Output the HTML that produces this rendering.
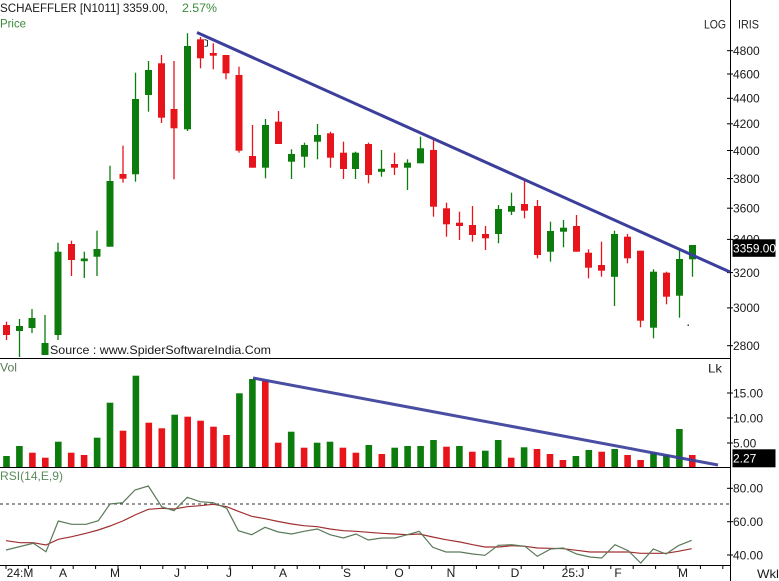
<!DOCTYPE html>
<html><head><meta charset="utf-8"><style>
html,body{margin:0;padding:0;background:#fff;}
svg{display:block;}
text{font-family:"Liberation Sans",sans-serif;}
</style></head><body>
<svg width="779" height="581" viewBox="0 0 779 581" xmlns="http://www.w3.org/2000/svg">
<rect width="779" height="581" fill="#fff"/>
<!-- header -->
<text x="0" y="12" font-size="12" fill="#1a1a1a" textLength="168" lengthAdjust="spacingAndGlyphs">SCHAEFFLER [N1011] 3359.00,</text>
<text x="182" y="12" font-size="12" fill="#3a8a3a" textLength="35" lengthAdjust="spacingAndGlyphs">2.57%</text>
<text x="0" y="27.5" font-size="12" fill="#3a8a3a" textLength="26" lengthAdjust="spacingAndGlyphs">Price</text>
<text x="704" y="28.3" font-size="12" fill="#222" textLength="22" lengthAdjust="spacingAndGlyphs">LOG</text>
<text x="738" y="28.3" font-size="12" fill="#222" textLength="21" lengthAdjust="spacingAndGlyphs">IRIS</text>

<!-- frame lines -->
<g stroke="#000" stroke-width="1">
<line x1="730.5" y1="0" x2="730.5" y2="581"/>
<line x1="0" y1="358.5" x2="730" y2="358.5"/>
<line x1="0" y1="467.5" x2="730" y2="467.5"/>
<line x1="0" y1="565.5" x2="730" y2="565.5"/>
</g>

<!-- right axis ticks -->
<g stroke="#000" stroke-width="1">
<line x1="727" y1="50.7" x2="733" y2="50.7"/>
<line x1="727" y1="74" x2="733" y2="74"/>
<line x1="727" y1="98.3" x2="733" y2="98.3"/>
<line x1="727" y1="123.8" x2="733" y2="123.8"/>
<line x1="727" y1="150.5" x2="733" y2="150.5"/>
<line x1="727" y1="178.6" x2="733" y2="178.6"/>
<line x1="727" y1="208.2" x2="733" y2="208.2"/>
<line x1="727" y1="239.4" x2="733" y2="239.4"/>
<line x1="727" y1="272.6" x2="733" y2="272.6"/>
<line x1="727" y1="307.9" x2="733" y2="307.9"/>
<line x1="727" y1="345.7" x2="733" y2="345.7"/>
<line x1="727" y1="393" x2="733" y2="393"/>
<line x1="727" y1="418" x2="733" y2="418"/>
<line x1="727" y1="443" x2="733" y2="443"/>
<line x1="727" y1="488.3" x2="733" y2="488.3"/>
<line x1="727" y1="521.7" x2="733" y2="521.7"/>
<line x1="727" y1="555" x2="733" y2="555"/>
</g>
<g font-size="12" fill="#1a1a1a">
<text x="733" y="55">4800</text>
<text x="733" y="78.3">4600</text>
<text x="733" y="102.6">4400</text>
<text x="733" y="128.1">4200</text>
<text x="733" y="154.8">4000</text>
<text x="733" y="182.9">3800</text>
<text x="733" y="212.5">3600</text>
<text x="733" y="243.7">3400</text>
<text x="733" y="276.9">3200</text>
<text x="733" y="312.2">3000</text>
<text x="733" y="350">2800</text>
<text x="733" y="397.3">15.00</text>
<text x="733" y="422.3">10.00</text>
<text x="733" y="447.3">5.00</text>
<text x="733" y="492.6">80.00</text>
<text x="733" y="526">60.00</text>
<text x="733" y="559.3">40.00</text>
</g>
<rect x="732.5" y="239.3" width="43" height="17.5" fill="#000"/>
<text x="733" y="252.5" font-size="12" fill="#fff" textLength="43" lengthAdjust="spacingAndGlyphs">3359.00</text>
<rect x="732.5" y="449.3" width="43" height="18" fill="#000"/>
<text x="733" y="462.7" font-size="12" fill="#fff">2.27</text>

<!-- price candles: green -->
<g fill="#0c7c0c" stroke="#0c7c0c" stroke-width="1.3">
<line x1="19.5" y1="319" x2="19.5" y2="357"/><rect x="16.5" y="326.5" width="6" height="4" stroke-width="1"/>
<line x1="32" y1="309" x2="32" y2="333"/><rect x="29" y="318.5" width="6" height="9" stroke-width="1"/>
<line x1="45" y1="315" x2="45" y2="355"/><rect x="42" y="343.5" width="6" height="11" stroke-width="1"/>
<line x1="58" y1="242.7" x2="58" y2="340"/><rect x="55" y="252.2" width="6" height="82.3" stroke-width="1"/>
<line x1="84.3" y1="251.7" x2="84.3" y2="278"/><rect x="81.3" y="259" width="6" height="1.7" stroke-width="1"/>
<line x1="97" y1="230.7" x2="97" y2="276"/><rect x="94" y="249.5" width="6" height="6.7" stroke-width="1"/>
<line x1="110" y1="165.7" x2="110" y2="246.7"/><rect x="107" y="181.5" width="6" height="64.7" stroke-width="1"/>
<line x1="135.5" y1="72.7" x2="135.5" y2="181.7"/><rect x="132.5" y="99.5" width="6" height="74.3" stroke-width="1"/>
<line x1="148.5" y1="61" x2="148.5" y2="111.7"/><rect x="145.5" y="70.5" width="6" height="24" stroke-width="1"/>
<line x1="187.5" y1="33.3" x2="187.5" y2="131"/><rect x="184.5" y="46.5" width="6" height="82.3" stroke-width="1"/>
<line x1="265.5" y1="119" x2="265.5" y2="178.3"/><rect x="262.5" y="125.5" width="6" height="41.7" stroke-width="1"/>
<line x1="291.5" y1="149.3" x2="291.5" y2="179"/><rect x="288.5" y="154.5" width="6" height="6.7" stroke-width="1"/>
<line x1="304.5" y1="142.7" x2="304.5" y2="167.7"/><rect x="301.5" y="145.5" width="6" height="10.7" stroke-width="1"/>
<line x1="317.5" y1="124" x2="317.5" y2="159.3"/><rect x="314.5" y="135.5" width="6" height="5.7" stroke-width="1"/>
<line x1="355.5" y1="151.7" x2="355.5" y2="179"/><rect x="352.5" y="153.2" width="6" height="15.3" stroke-width="1"/>
<line x1="381.5" y1="150" x2="381.5" y2="176.7"/><rect x="378.5" y="169.3" width="6" height="2" stroke-width="1"/>
<line x1="407.5" y1="159.3" x2="407.5" y2="190"/><rect x="404.5" y="163.2" width="6" height="4" stroke-width="1"/>
<line x1="420.5" y1="136.7" x2="420.5" y2="163.3"/><rect x="417.5" y="148.8" width="6" height="14" stroke-width="1"/>
<line x1="498.5" y1="205" x2="498.5" y2="243.3"/><rect x="495.5" y="209.5" width="6" height="24" stroke-width="1"/>
<line x1="511.5" y1="192.7" x2="511.5" y2="215"/><rect x="508.5" y="206.5" width="6" height="4.7" stroke-width="1"/>
<line x1="550.5" y1="221.7" x2="550.5" y2="261.7"/><rect x="547.5" y="231.5" width="6" height="19.7" stroke-width="1"/>
<line x1="563.5" y1="220" x2="563.5" y2="247.3"/><rect x="560.5" y="228.2" width="6" height="3" stroke-width="1"/>
<line x1="614.5" y1="230.7" x2="614.5" y2="306"/><rect x="611.5" y="234.5" width="6" height="41.8" stroke-width="1"/>
<line x1="653.5" y1="269.3" x2="653.5" y2="338.3"/><rect x="650.5" y="272.2" width="6" height="55" stroke-width="1"/>
<line x1="679.5" y1="248.3" x2="679.5" y2="317.7"/><rect x="676.5" y="259.5" width="6" height="35.7" stroke-width="1"/>
<line x1="692.5" y1="245" x2="692.5" y2="276.7"/><rect x="689.5" y="245.5" width="6" height="13.3" stroke-width="1"/>
</g>
<!-- price candles: red -->
<g fill="#e8141c" stroke="#e8141c" stroke-width="1.3">
<line x1="6.5" y1="321.7" x2="6.5" y2="340"/><rect x="3.5" y="325.5" width="6" height="9" stroke-width="1"/>
<line x1="71.5" y1="240.7" x2="71.5" y2="276"/><rect x="68.5" y="244.5" width="6" height="15" stroke-width="1"/>
<line x1="123" y1="145.7" x2="123" y2="182.7"/><rect x="120" y="174.5" width="6" height="3.7" stroke-width="1"/>
<line x1="161.5" y1="55" x2="161.5" y2="123"/><rect x="158.5" y="63.8" width="6" height="53.4" stroke-width="1"/>
<line x1="174" y1="61" x2="174" y2="179.3"/><rect x="171" y="109.5" width="6" height="18.3" stroke-width="1"/>
<line x1="200.5" y1="37" x2="200.5" y2="68.3"/><rect x="197.5" y="39.8" width="6" height="18" stroke-width="1"/>
<line x1="213.3" y1="43.3" x2="213.3" y2="69.3"/><rect x="210.3" y="53.5" width="6" height="1.7" stroke-width="1"/>
<line x1="226" y1="55" x2="226" y2="79.3"/><rect x="223" y="55.5" width="6" height="17.3" stroke-width="1"/>
<line x1="239" y1="66.7" x2="239" y2="152.7"/><rect x="236" y="75.5" width="6" height="74.7" stroke-width="1"/>
<line x1="252.5" y1="125" x2="252.5" y2="167.7"/><rect x="249.5" y="156.5" width="6" height="10.7" stroke-width="1"/>
<line x1="278.5" y1="111" x2="278.5" y2="144"/><rect x="275.5" y="122.2" width="6" height="21.3" stroke-width="1"/>
<line x1="330.5" y1="131.7" x2="330.5" y2="167.7"/><rect x="327.5" y="133.8" width="6" height="23.4" stroke-width="1"/>
<line x1="343.5" y1="141.7" x2="343.5" y2="179"/><rect x="340.5" y="153.2" width="6" height="15.3" stroke-width="1"/>
<line x1="368.5" y1="142.7" x2="368.5" y2="183.3"/><rect x="365.5" y="144.5" width="6" height="30" stroke-width="1"/>
<line x1="394.5" y1="152.7" x2="394.5" y2="175"/><rect x="391.5" y="164.5" width="6" height="2.7" stroke-width="1"/>
<line x1="433.5" y1="140" x2="433.5" y2="216.7"/><rect x="430.5" y="150.5" width="6" height="55.7" stroke-width="1"/>
<line x1="446.5" y1="202.7" x2="446.5" y2="236.7"/><rect x="443.5" y="208.8" width="6" height="15" stroke-width="1"/>
<line x1="459.5" y1="211.7" x2="459.5" y2="240"/><rect x="456.5" y="223.2" width="6" height="2.3" stroke-width="1"/>
<line x1="472.5" y1="206" x2="472.5" y2="241.7"/><rect x="469.5" y="225.5" width="6" height="9" stroke-width="1"/>
<line x1="485.5" y1="226" x2="485.5" y2="250"/><rect x="482.5" y="234.5" width="6" height="3.3" stroke-width="1"/>
<line x1="524.5" y1="180" x2="524.5" y2="218.3"/><rect x="521.5" y="204.5" width="6" height="5.7" stroke-width="1"/>
<line x1="537.5" y1="200" x2="537.5" y2="258.3"/><rect x="534.5" y="206.5" width="6" height="48" stroke-width="1"/>
<line x1="576.5" y1="215" x2="576.5" y2="251.7"/><rect x="573.5" y="226.5" width="6" height="24.7" stroke-width="1"/>
<line x1="588.5" y1="249.3" x2="588.5" y2="278.3"/><rect x="585.5" y="253.2" width="6" height="14" stroke-width="1"/>
<line x1="601.5" y1="241.7" x2="601.5" y2="276.7"/><rect x="598.5" y="265.5" width="6" height="4.7" stroke-width="1"/>
<line x1="627.5" y1="234" x2="627.5" y2="263.3"/><rect x="624.5" y="237.2" width="6" height="20.6" stroke-width="1"/>
<line x1="640.5" y1="250.7" x2="640.5" y2="327.3"/><rect x="637.5" y="251.2" width="6" height="69" stroke-width="1"/>
<line x1="666.5" y1="271.7" x2="666.5" y2="304.3"/><rect x="663.5" y="273.2" width="6" height="23" stroke-width="1"/>
</g>
<path d="M204.5,39.5 L207.5,40.5 L207.5,46 L204.5,46.5" fill="none" stroke="#333" stroke-width="1"/>
<rect x="687.5" y="324.5" width="1.5" height="1.5" fill="#444"/>
<!-- price trendline -->
<line x1="197" y1="32.5" x2="730" y2="272" stroke="#3b3f9b" stroke-width="3"/>
<text x="50" y="354" font-size="12" fill="#1a1a1a" textLength="221" lengthAdjust="spacingAndGlyphs">Source : www.SpiderSoftwareIndia.Com</text>

<!-- volume -->
<text x="0" y="371.5" font-size="12" fill="#5a7a5a" textLength="17" lengthAdjust="spacingAndGlyphs">Vol</text>
<text x="708" y="372.5" font-size="12" fill="#222" textLength="14" lengthAdjust="spacingAndGlyphs">Lk</text>
<g fill="#0c7c0c">
<rect x="3.2" y="456" width="6.6" height="11"/>
<rect x="16.1" y="446" width="6.6" height="21"/>
<rect x="55" y="441.7" width="6.6" height="25.3"/>
<rect x="93.8" y="437.7" width="6.6" height="29.3"/>
<rect x="106.7" y="402.7" width="6.6" height="64.3"/>
<rect x="132.6" y="375.7" width="6.6" height="91.3"/>
<rect x="171.4" y="414.7" width="6.6" height="52.3"/>
<rect x="236.1" y="393.3" width="6.6" height="73.7"/>
<rect x="249.1" y="379" width="6.6" height="88"/>
<rect x="287.9" y="431.7" width="6.6" height="35.3"/>
<rect x="313.8" y="442.7" width="6.6" height="24.3"/>
<rect x="326.7" y="441.7" width="6.6" height="25.3"/>
<rect x="365.5" y="445" width="6.6" height="22"/>
<rect x="391.4" y="447.7" width="6.6" height="19.3"/>
<rect x="404.3" y="446" width="6.6" height="21"/>
<rect x="417.3" y="446" width="6.6" height="21"/>
<rect x="430.2" y="440" width="6.6" height="27"/>
<rect x="456.1" y="446" width="6.6" height="21"/>
<rect x="482" y="450.7" width="6.6" height="16.3"/>
<rect x="494.9" y="440" width="6.6" height="27"/>
<rect x="520.8" y="447.3" width="6.6" height="19.7"/>
<rect x="572.6" y="456" width="6.6" height="11"/>
<rect x="585.5" y="450" width="6.6" height="17"/>
<rect x="611.4" y="449" width="6.6" height="18"/>
<rect x="650.2" y="452.7" width="6.6" height="14.3"/>
<rect x="663.1" y="455" width="6.6" height="12"/>
<rect x="676.1" y="429" width="6.6" height="38"/>
</g>
<g fill="#e8141c">
<rect x="29.1" y="452.7" width="6.6" height="14.3"/>
<rect x="42" y="457.7" width="6.6" height="9.3"/>
<rect x="67.9" y="452.7" width="6.6" height="14.3"/>
<rect x="80.8" y="455" width="6.6" height="12"/>
<rect x="119.7" y="430.7" width="6.6" height="36.3"/>
<rect x="145.5" y="422.7" width="6.6" height="44.3"/>
<rect x="158.5" y="428.3" width="6.6" height="38.7"/>
<rect x="184.4" y="416.7" width="6.6" height="50.3"/>
<rect x="197.3" y="420.7" width="6.6" height="46.3"/>
<rect x="210.2" y="426.7" width="6.6" height="40.3"/>
<rect x="223.2" y="435" width="6.6" height="32"/>
<rect x="262" y="380.7" width="6.6" height="86.3"/>
<rect x="274.9" y="442.7" width="6.6" height="24.3"/>
<rect x="300.8" y="447.7" width="6.6" height="19.3"/>
<rect x="339.6" y="447.7" width="6.6" height="19.3"/>
<rect x="352.6" y="452.7" width="6.6" height="14.3"/>
<rect x="378.5" y="454" width="6.6" height="13"/>
<rect x="443.2" y="446.7" width="6.6" height="20.3"/>
<rect x="469" y="451.7" width="6.6" height="15.3"/>
<rect x="507.9" y="457.7" width="6.6" height="9.3"/>
<rect x="533.7" y="449" width="6.6" height="18"/>
<rect x="546.7" y="454" width="6.6" height="13"/>
<rect x="559.6" y="460" width="6.6" height="7"/>
<rect x="598.4" y="451.7" width="6.6" height="15.3"/>
<rect x="624.3" y="455" width="6.6" height="12"/>
<rect x="637.3" y="460" width="6.6" height="7"/>
<rect x="689" y="455" width="6.6" height="12"/>
</g>
<line x1="253" y1="378" x2="718" y2="465" stroke="#3b3f9b" stroke-width="3" opacity="0.92"/>

<!-- RSI -->
<text x="0" y="480" font-size="12" fill="#5a8a5a" textLength="63" lengthAdjust="spacingAndGlyphs">RSI(14,E,9)</text>
<line x1="0" y1="504" x2="730" y2="504" stroke="#333" stroke-width="1" stroke-dasharray="3,3"/>
<polyline fill="none" stroke="#a03030" stroke-width="1.2" points="6,540.7 20,542.7 33.3,542.7 46,545 58.3,539.3 71.7,536.7 86,533.3 98.3,530 110,526 122.7,521 135,515 148.3,509.3 161.7,508.3 174,509 187.3,506.7 200,505.7 213.3,504.3 226.7,506.7 239.3,511.7 251.7,516.3 265,518.7 278.3,521.5 291.7,524 304,525.7 317.3,526.7 330,529 343.3,530.7 356,531.3 368.3,532.3 381.7,533.3 395,534 407.3,534.7 419.3,534 432.7,537 446,539.7 460,542 472.7,544.7 485,547 498.3,547 511.7,545.7 525,546.3 537.3,548 550.7,548.3 563.3,548.7 576.7,550.3 590,552 601.7,552 615,552 628.3,552 640.7,553.3 653.3,553.3 666,553.3 678.3,551.3 691.7,548.7"/>
<polyline fill="none" stroke="#5a7a5a" stroke-width="1.2" points="6,550 33.3,543.3 46,551.7 58.3,521 71.7,524.3 86,524.3 98.3,520.7 110,504 122.7,502.7 135,490 148.3,486 161.7,506.7 174,510.7 187.3,497.3 200,501.7 213.3,502.7 226.7,508.3 238.3,530.7 251.7,534.7 265,527.3 278.3,532 291.7,534 304,531.3 317.3,529 330,534.7 343.3,538 356,534 368.3,540 381.7,538 395,538 407.3,534.7 419.3,531.3 432.7,547.3 446,552 460,552 472.7,554 485,555.3 498.3,545.3 511.7,544.7 525,546.3 537.3,556.3 550.7,549 563.3,548 576.7,554 590,557 601.7,558 615,544.7 628.3,550.7 640.7,563 653.3,549 666,554 678.3,545.7 691.7,540.3"/>

<!-- x axis ticks -->
<g stroke="#000" stroke-width="1">
<line x1="6" y1="566" x2="6" y2="569"/><line x1="28.4" y1="566" x2="28.4" y2="569"/><line x1="50.8" y1="566" x2="50.8" y2="569"/><line x1="73.2" y1="566" x2="73.2" y2="569"/><line x1="95.6" y1="566" x2="95.6" y2="569"/><line x1="118" y1="566" x2="118" y2="569"/><line x1="140.4" y1="566" x2="140.4" y2="569"/><line x1="162.8" y1="566" x2="162.8" y2="569"/><line x1="185.2" y1="566" x2="185.2" y2="569"/><line x1="207.6" y1="566" x2="207.6" y2="569"/><line x1="230" y1="566" x2="230" y2="569"/><line x1="252.4" y1="566" x2="252.4" y2="569"/><line x1="274.8" y1="566" x2="274.8" y2="569"/><line x1="297.2" y1="566" x2="297.2" y2="569"/><line x1="319.6" y1="566" x2="319.6" y2="569"/><line x1="342" y1="566" x2="342" y2="569"/><line x1="364.4" y1="566" x2="364.4" y2="569"/><line x1="386.8" y1="566" x2="386.8" y2="569"/><line x1="409.2" y1="566" x2="409.2" y2="569"/><line x1="431.6" y1="566" x2="431.6" y2="569"/><line x1="454" y1="566" x2="454" y2="569"/><line x1="476.4" y1="566" x2="476.4" y2="569"/><line x1="498.8" y1="566" x2="498.8" y2="569"/><line x1="521.2" y1="566" x2="521.2" y2="569"/><line x1="543.6" y1="566" x2="543.6" y2="569"/><line x1="566" y1="566" x2="566" y2="569"/><line x1="588.4" y1="566" x2="588.4" y2="569"/><line x1="610.8" y1="566" x2="610.8" y2="569"/><line x1="633.2" y1="566" x2="633.2" y2="569"/><line x1="655.6" y1="566" x2="655.6" y2="569"/><line x1="678" y1="566" x2="678" y2="569"/><line x1="700.4" y1="566" x2="700.4" y2="569"/><line x1="722.8" y1="566" x2="722.8" y2="569"/>
</g>
<g font-size="12" fill="#1a1a1a" text-anchor="middle">
<text x="20" y="577">24:M</text>
<text x="63" y="577">A</text>
<text x="115" y="577">M</text>
<text x="177" y="577">J</text>
<text x="229" y="577">J</text>
<text x="283" y="577">A</text>
<text x="347" y="577">S</text>
<text x="399" y="577">O</text>
<text x="451" y="577">N</text>
<text x="515" y="577">D</text>
<text x="573" y="577">25:J</text>
<text x="618" y="577">F</text>
<text x="683" y="577">M</text>
</g>
<text x="757" y="578" font-size="12" fill="#1a1a1a" textLength="22" lengthAdjust="spacingAndGlyphs">Wkl</text>
</svg>
</body></html>
